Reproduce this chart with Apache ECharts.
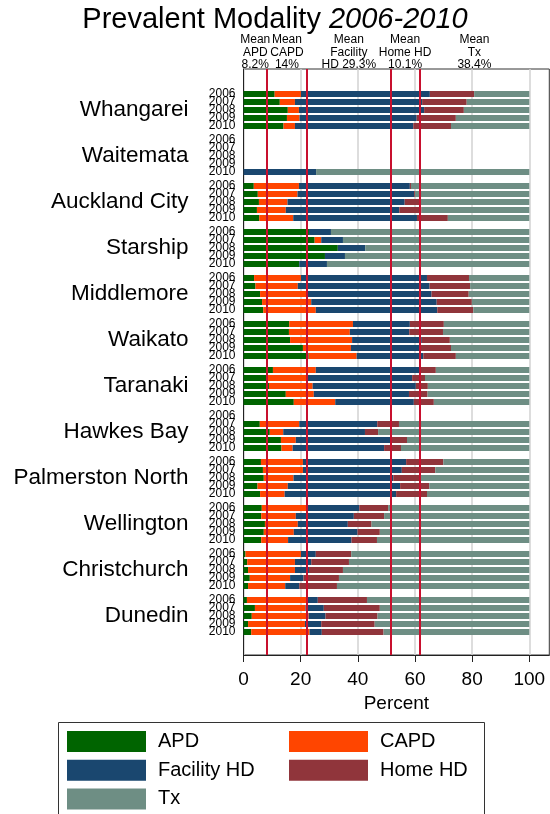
<!DOCTYPE html>
<html>
<head>
<meta charset="utf-8">
<script src="https://cdn.jsdelivr.net/npm/echarts@6/dist/echarts.min.js"></script>
<style>
  html, body { margin: 0; padding: 0; background: #fff; }
  #chart { width: 550px; height: 814px; }
</style>
</head>
<body>
<div id="chart"></div>
<script>
// Renal replacement modality mix by region, 2006-2010 (percent of prevalent patients)
const regions = ['Whangarei', 'Waitemata', 'Auckland City', 'Starship', 'Middlemore', 'Waikato',
  'Taranaki', 'Hawkes Bay', 'Palmerston North', 'Wellington', 'Christchurch', 'Dunedin'];
const years = ['2006', '2007', '2008', '2009', '2010'];

// One row of five yearly values per region; null = no data for that year
const apd = [
  [10.9, 12.7, 15.5, 15.2, 14.0],
  [null, null, null, null, 0],
  [3.6, 5.0, 5.4, 4.7, 5.5],
  [22.9, 24.9, 33.0, 28.5, 19.5],
  [3.7, 4.2, 5.8, 6.5, 6.9],
  [16.0, 15.9, 16.3, 20.8, 22.8],
  [10.3, 8.3, 8.9, 14.8, 17.6],
  [null, 5.7, 9.2, 13.1, 13.3],
  [6.1, 6.8, 7.1, 4.9, 5.8],
  [6.4, 6.2, 7.5, 7.1, 6.2],
  [0.7, 1.3, 1.6, 2.2, 1.6],
  [1.2, 4.0, 2.9, 1.6, 2.7]
];
const capd = [
  [9.2, 5.3, 3.9, 4.4, 4.0],
  [null, null, null, null, 0],
  [15.8, 13.9, 10.0, 10.1, 11.9],
  [0, 2.3, 0, 0, 0],
  [16.4, 14.8, 16.5, 17.2, 18.4],
  [22.3, 21.3, 21.7, 16.8, 16.8],
  [15.0, 14.1, 15.3, 9.8, 14.5],
  [null, 13.8, 4.7, 5.2, 3.9],
  [14.7, 14.0, 10.4, 10.6, 8.6],
  [15.9, 12.1, 11.5, 10.5, 9.4],
  [19.4, 16.7, 16.4, 14.1, 13.0],
  [21.0, 17.7, 19.9, 19.9, 20.4]
];
const facilityHd = [
  [45.1, 44.5, 43.8, 41.0, 41.4],
  [null, null, null, null, 25.4],
  [38.8, 40.8, 41.0, 39.7, 43.3],
  [7.7, 7.6, 9.6, 7.0, 9.7],
  [44.1, 46.1, 43.5, 43.9, 42.5],
  [19.9, 20.8, 24.4, 24.2, 23.3],
  [36.2, 36.6, 36.1, 33.3, 27.5],
  [null, 27.3, 28.6, 33.4, 32.0],
  [36.1, 34.6, 34.9, 39.3, 39.0],
  [18.2, 20.3, 17.5, 22.3, 22.2],
  [5.2, 5.7, 4.9, 4.7, 4.9],
  [3.8, 6.4, 5.9, 5.7, 4.3]
];
const homeHd = [
  [15.5, 15.6, 13.9, 13.7, 13.2],
  [null, null, null, null, 0],
  [0.4, 0.3, 5.2, 7.8, 10.8],
  [0, 0, 0, 0, 0],
  [14.7, 14.2, 13.0, 12.3, 12.6],
  [11.9, 11.8, 9.8, 10.8, 11.4],
  [5.8, 4.5, 4.2, 6.5, 7.0],
  [null, 7.6, 4.6, 5.5, 5.9],
  [13.0, 11.7, 9.6, 10.2, 10.8],
  [10.1, 10.6, 8.3, 7.8, 8.9],
  [12.4, 13.2, 11.9, 12.4, 13.2],
  [17.2, 19.6, 18.2, 18.7, 21.6]
];
const tx = [
  [19.3, 21.9, 22.9, 25.7, 27.4],
  [null, null, null, null, 74.6],
  [41.4, 40.0, 38.4, 37.7, 28.5],
  [69.4, 65.2, 57.4, 64.5, 70.8],
  [21.1, 20.7, 21.2, 20.1, 19.6],
  [29.9, 30.2, 27.8, 27.4, 25.7],
  [32.7, 36.5, 35.5, 35.6, 33.4],
  [null, 45.6, 52.9, 42.8, 44.9],
  [30.1, 32.9, 38.0, 35.0, 35.8],
  [49.4, 50.8, 55.2, 52.3, 53.3],
  [62.3, 63.1, 65.2, 66.6, 67.3],
  [56.8, 52.3, 53.1, 54.1, 51.0]
];

// National means per modality (percent)
const meanNames = ['APD', 'CAPD', 'Facility HD', 'Home HD', 'Tx'];
const meanValues = [8.2, 14, 29.3, 10.1, 38.4];
const meanLabels = ['Mean\nAPD\n8.2%', 'Mean\nCAPD\n14%', 'Mean\nFacility\nHD 29.3%', 'Mean\nHome HD\n10.1%', 'Mean\nTx\n38.4%'];

const xTicks = [0, 20, 40, 60, 80, 100];

// ---- layout of the category band: each year is a row, regions separated by a gap ----
const SLOTS = 293, FIRST_SLOT = 12, GROUP_STEP = 23, ROW_STEP = 4;
const slotKeys = [], slotYear = [], slotRegion = [];
for (let k = 0; k < SLOTS; k++) { slotKeys.push('s' + k); slotYear.push(''); slotRegion.push(''); }
const slotOf = (g, j) => FIRST_SLOT + g * GROUP_STEP + j * ROW_STEP;
regions.forEach((r, g) => {
  years.forEach((y, j) => { slotYear[slotOf(g, j)] = y; });
  slotRegion[slotOf(g, 2)] = r;
});
function toSlots(table) {
  const out = new Array(SLOTS).fill(null);
  table.forEach((row, g) => row.forEach((v, j) => { out[slotOf(g, j)] = v; }));
  return out;
}

// cumulative mean positions and the centre of each mean segment
const cumMeans = [];
const midMeans = [];
let acc = 0;
meanValues.forEach(v => { midMeans.push(+(acc + v / 2).toFixed(3)); acc += v; cumMeans.push(+acc.toFixed(3)); });
cumMeans.pop();

const FONT = '"Liberation Sans", Arial, Helvetica, sans-serif';
const colors = { APD: '#006400', CAPD: '#ff4500', 'Facility HD': '#1a476f', 'Home HD': '#90353b', Tx: '#6e8e84' };
const tables = { APD: apd, CAPD: capd, 'Facility HD': facilityHd, 'Home HD': homeHd, Tx: tx };

const series = meanNames.map((name, i) => ({
  name: name,
  type: 'bar',
  stack: 'total',
  barWidth: 6,
  xAxisIndex: 0,
  yAxisIndex: 0,
  itemStyle: { color: colors[name] },
  data: toSlots(tables[name]),
  emphasis: { disabled: true }
}));
series[series.length - 1].markLine = {
  silent: true,
  symbol: ['none', 'none'],
  label: { show: false },
  z: 10,
  lineStyle: { color: '#c8102e', width: 2, type: 'solid' },
  data: cumMeans.map(v => ({ xAxis: v }))
};

const chart = echarts.init(document.getElementById('chart'), null, { renderer: 'canvas' });
chart.setOption({
  animation: false,
  backgroundColor: '#fff',
  textStyle: { fontFamily: FONT },
  title: {
    text: '{a|Prevalent Modality }{b|2006-2010}',
    left: 'center',
    top: 0,
    textStyle: {
      fontWeight: 'normal',
      rich: {
        a: { fontFamily: FONT, fontSize: 29, fontWeight: 'normal', color: '#000' },
        b: { fontFamily: FONT, fontSize: 29, fontWeight: 'normal', fontStyle: 'italic', color: '#000' }
      }
    }
  },
  grid: {
    left: 243.5, right: 0.7, top: 69, height: 586,
    show: true, borderColor: '#333', borderWidth: 1, backgroundColor: 'transparent',
    containLabel: false
  },
  xAxis: [{
    type: 'value', min: 0, max: 107, interval: 20,
    name: 'Percent', nameLocation: 'middle', nameGap: 35,
    nameTextStyle: { fontSize: 19, color: '#000', fontFamily: FONT },
    axisLine: { show: true, lineStyle: { color: '#222', width: 1 } },
    axisTick: { show: true, length: 7, customValues: xTicks, lineStyle: { color: '#222' } },
    axisLabel: { customValues: xTicks, fontSize: 19, margin: 15, color: '#000', fontFamily: FONT },
    splitLine: { show: true, lineStyle: { color: '#d2d2d2', width: 1.5 } }
  }, {
    type: 'value', position: 'top', min: 0, max: 107,
    axisLine: { show: false }, axisTick: { show: false }, splitLine: { show: false },
    axisLabel: {
      customValues: midMeans,
      fontSize: 12, lineHeight: 12.5, margin: -2, color: '#000', fontFamily: FONT,
      formatter: function (v) {
        let best = 0;
        midMeans.forEach((m, i) => { if (Math.abs(m - v) < Math.abs(midMeans[best] - v)) best = i; });
        return meanLabels[best];
      }
    }
  }],
  yAxis: [{
    type: 'category', inverse: true, data: slotKeys,
    axisLine: { show: true, lineStyle: { color: '#222', width: 1 } },
    axisTick: { show: false },
    splitLine: { show: false },
    axisLabel: {
      interval: 0, fontSize: 12, margin: 8, color: '#000', fontFamily: FONT,
      formatter: function (v, idx) { return slotYear[idx]; }
    }
  }, {
    type: 'category', inverse: true, data: slotKeys, position: 'left', offset: 0,
    axisLine: { show: false }, axisTick: { show: false }, splitLine: { show: false },
    axisLabel: {
      interval: 0, fontSize: 22.5, margin: 55, color: '#000', fontFamily: FONT,
      formatter: function (v, idx) { return slotRegion[idx]; }
    }
  }],
  legend: [{
    orient: 'vertical', left: 67, top: 731, padding: 0,
    itemWidth: 79, itemHeight: 21, itemGap: 7.7, icon: 'rect',
    selectedMode: false,
    data: ['APD', 'Facility HD', 'Tx'],
    textStyle: { fontSize: 20, color: '#000', fontFamily: FONT, padding: [0, 0, 0, 7] }
  }, {
    orient: 'vertical', left: 289, top: 731, padding: 0,
    itemWidth: 79, itemHeight: 21, itemGap: 7.7, icon: 'rect',
    selectedMode: false,
    data: ['CAPD', 'Home HD'],
    textStyle: { fontSize: 20, color: '#000', fontFamily: FONT, padding: [0, 0, 0, 7] }
  }],
  graphic: [{
    type: 'rect', silent: true,
    shape: { x: 58.5, y: 722.5, width: 426, height: 100 },
    style: { fill: 'none', stroke: '#333', lineWidth: 1 }
  }],
  series: series
});
</script>
</body>
</html>
